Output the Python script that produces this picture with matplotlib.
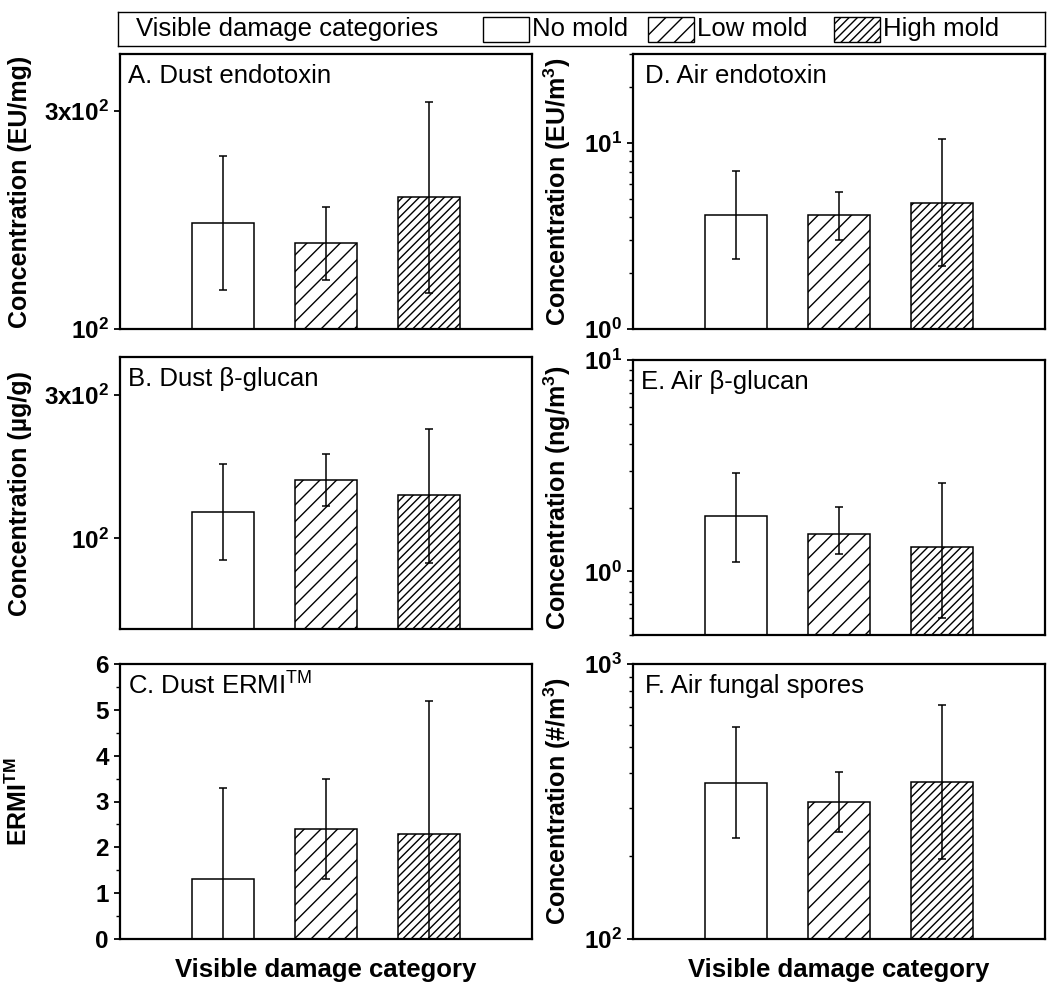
import numpy as np
import matplotlib
matplotlib.use('Agg')
import matplotlib.pyplot as plt
from matplotlib.patches import Rectangle
from matplotlib.ticker import FixedLocator, FixedFormatter, LogLocator, NullLocator, NullFormatter

plt.rcParams['font.family'] = ['Liberation Sans', 'DejaVu Sans']
plt.rcParams['mathtext.fontset'] = 'custom'
plt.rcParams['mathtext.rm'] = 'Liberation Sans'
plt.rcParams['mathtext.bf'] = 'Liberation Sans:bold'
plt.rcParams['mathtext.it'] = 'Liberation Sans:italic'
plt.rcParams['hatch.linewidth'] = 1.0

# ── data ──────────────────────────────────────
CATEGORIES = ['No mold', 'Low mold', 'High mold']
HATCHES = ['', '//', '////']

# A. dust endotoxin (EU/mg)
dust_endo_mean = [171, 154, 195]
dust_endo_lo = [122, 128, 120]
dust_endo_hi = [239, 185, 314]

# B. dust beta-glucan (ug/g)
dust_gluc_mean = [122, 156, 139]
dust_gluc_lo = [85, 128, 83]
dust_gluc_hi = [176, 191, 231]

# C. dust ERMI (mean, sd)
ermi_mean = [1.3, 2.4, 2.3]
ermi_sd = [2.0, 1.1, 2.9]

# D. air endotoxin (EU/m3)
air_endo_mean = [4.12, 4.12, 4.78]
air_endo_lo = [2.38, 2.99, 2.19]
air_endo_hi = [7.08, 5.47, 10.5]

# E. air beta-glucan (ng/m3)
air_gluc_mean = [1.82, 1.51, 1.31]
air_gluc_lo = [1.11, 1.21, 0.60]
air_gluc_hi = [2.92, 2.02, 2.62]

# F. air fungal spores (#/m3)
spores_mean = [369, 314, 371]
spores_lo = [232, 245, 196]
spores_hi = [592, 404, 711]

W, H = 1050, 999
fig = plt.figure(figsize=(W / 100, H / 100), dpi=100)

TITLE_FS = 18.5
LABEL_FS = 18


def px_axes(left, top, right, bottom):
    return fig.add_axes([left / W, 1 - bottom / H, (right - left) / W, (bottom - top) / H])


def draw_panel(ax, mean, lo, hi, title, ylabel, tx=0.02, tick_fs=17.5):
    x = np.arange(1, len(mean) + 1)
    mean = np.asarray(mean, float)
    yerr = [mean - np.asarray(lo, float), np.asarray(hi, float) - mean]
    for xi, m, h in zip(x, mean, HATCHES):
        ax.bar(xi, m, width=0.6, color='white', edgecolor='black',
               linewidth=1.1, hatch=h, zorder=2)
    ax.errorbar(x, mean, yerr=yerr, fmt='none', ecolor='black',
                elinewidth=1.1, capsize=3, capthick=1.1, zorder=3)
    ax.set_xlim(0, 4)
    ax.set_xticks([])
    for s in ax.spines.values():
        s.set_linewidth(1.6)
    ax.tick_params(axis='y', which='major', direction='out', length=4,
                   width=1.3, labelsize=tick_fs, pad=4)
    ax.tick_params(axis='y', which='minor', direction='out', length=3, width=1.0)
    for lab in ax.get_yticklabels():
        lab.set_fontweight('bold')
    ax.text(tx, 0.92, title, transform=ax.transAxes, fontsize=TITLE_FS,
            ha='left', va='center')
    ax.set_ylabel(ylabel, fontsize=LABEL_FS, fontweight='bold')


def log_ticks(ax, ylim, majors, labels, minor=True):
    ax.set_yscale('log')
    ax.set_ylim(*ylim)
    ax.yaxis.set_major_locator(FixedLocator(majors))
    ax.yaxis.set_major_formatter(FixedFormatter(labels))
    if minor:
        ax.yaxis.set_minor_locator(LogLocator(base=10, subs=np.arange(2, 10)))
    else:
        ax.yaxis.set_minor_locator(NullLocator())
    ax.yaxis.set_minor_formatter(NullFormatter())


# ── left column ───────────────────────────────
axA = px_axes(120, 54, 532, 329)
log_ticks(axA, (100, 400), [100, 300], [r'$\mathbf{10^{2}}$', r'$\mathbf{3x10^{2}}$'], minor=False)
draw_panel(axA, dust_endo_mean, dust_endo_lo, dust_endo_hi,
           'A. Dust endotoxin', 'Concentration (EU/mg)')

axB = px_axes(120, 357, 532, 629)
log_ticks(axB, (50, 400), [100, 300], [r'$\mathbf{10^{2}}$', r'$\mathbf{3x10^{2}}$'], minor=False)
draw_panel(axB, dust_gluc_mean, dust_gluc_lo, dust_gluc_hi,
           'B. Dust β-glucan', 'Concentration (µg/g)')

axC = px_axes(120, 664, 532, 939)
axC.set_ylim(0, 6)
axC.yaxis.set_major_locator(FixedLocator(np.arange(0, 7)))
axC.yaxis.set_minor_locator(FixedLocator(np.arange(0.5, 6, 1.0)))
ermi_lo = np.array(ermi_mean) - np.array(ermi_sd)
ermi_hi = np.array(ermi_mean) + np.array(ermi_sd)
draw_panel(axC, ermi_mean, ermi_lo, ermi_hi,
           r'C. Dust ERMI$^{\mathrm{TM}}$', r'ERMI$^{\mathbf{TM}}$', tick_fs=17.5)

# ── right column ──────────────────────────────
axD = px_axes(633, 54, 1045, 329)
log_ticks(axD, (1, 30), [1, 10], [r'$\mathbf{10^{0}}$', r'$\mathbf{10^{1}}$'])
draw_panel(axD, air_endo_mean, air_endo_lo, air_endo_hi,
           'D. Air endotoxin', r'Concentration (EU/m$^{\mathbf{3}}$)', tx=0.03)

axE = px_axes(633, 360, 1045, 635)
log_ticks(axE, (0.5, 10), [1, 10], [r'$\mathbf{10^{0}}$', r'$\mathbf{10^{1}}$'])
draw_panel(axE, air_gluc_mean, air_gluc_lo, air_gluc_hi,
           'E. Air β-glucan', r'Concentration (ng/m$^{\mathbf{3}}$)', tx=0.02)

axF = px_axes(633, 664, 1045, 939)
log_ticks(axF, (100, 1000), [100, 1000], [r'$\mathbf{10^{2}}$', r'$\mathbf{10^{3}}$'])
draw_panel(axF, spores_mean, spores_lo, spores_hi,
           'F. Air fungal spores', r'Concentration (#/m$^{\mathbf{3}}$)', tx=0.03)

for ax in (axA, axB, axC):
    ax.yaxis.set_label_coords(-0.214, 0.5)
for ax in (axD, axE, axF):
    ax.yaxis.set_label_coords(-0.145, 0.5)

for ax in (axC, axF):
    ax.set_xlabel('Visible damage category', fontsize=TITLE_FS, fontweight='bold',
                  labelpad=14)

# ── legend box ────────────────────────────────
leg = px_axes(118, 12, 1045, 46)
leg.set_xlim(118, 1045)
leg.set_ylim(46, 12)
leg.set_xticks([]); leg.set_yticks([])
for s in leg.spines.values():
    s.set_linewidth(1.0)
leg.text(136, 29, 'Visible damage categories', fontsize=TITLE_FS, ha='left', va='center')
for x0, name, h in zip([483, 648, 834], CATEGORIES, HATCHES):
    leg.add_patch(Rectangle((x0, 17), 46, 25, facecolor='white',
                            edgecolor='black', linewidth=1.0, hatch=h))
    leg.text(x0 + 49, 29, name, fontsize=TITLE_FS, ha='left', va='center')

fig.savefig('out.png', dpi=100)
